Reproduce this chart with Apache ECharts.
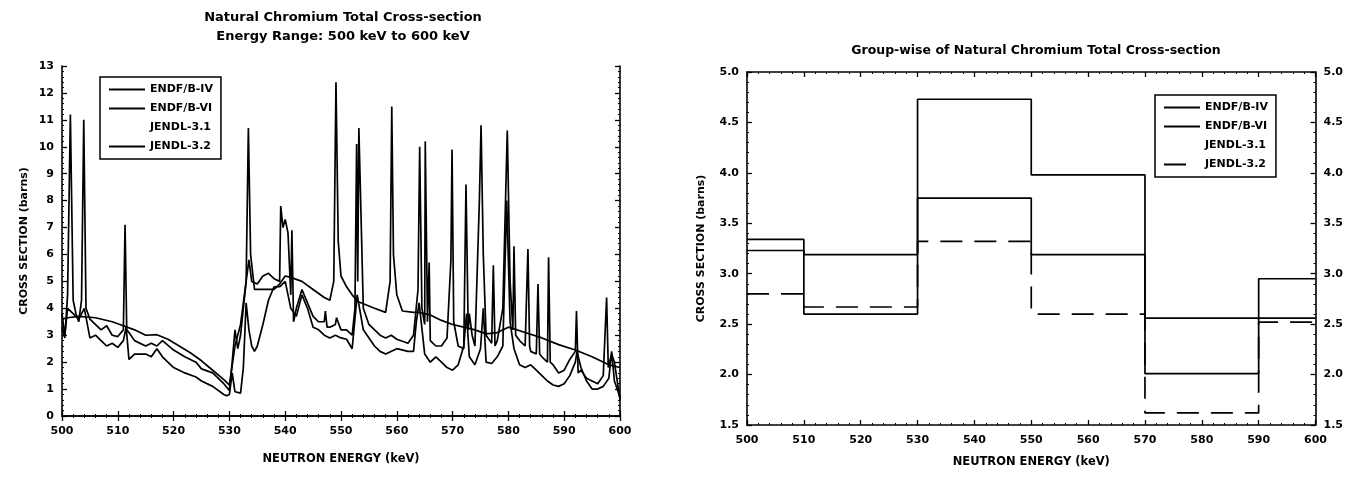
<!DOCTYPE html>
<html>
<head>
<meta charset="utf-8">
<script src="https://cdn.jsdelivr.net/npm/echarts@6/dist/echarts.min.js"></script>
<style>
  html, body { margin: 0; padding: 0; background: #fff; }
  #chart { width: 1346px; height: 479px; }
</style>
</head>
<body>
<div id="chart"></div>
<script>
// pointwise cross sections, 500-600 keV [energy keV, barns]
const endfB4 = [
  [500, 3.6], [501, 3.65], [503, 3.7], [506, 3.65], [509, 3.5], [511, 3.35], [513, 3.2],
  [515, 3.0], [517, 3.02], [519, 2.85], [521, 2.6], [523, 2.35], [525, 2.05], [527, 1.7],
  [529, 1.35], [530, 1.15], [531, 2.6], [532, 3.4], [533, 5.0], [533.4, 10.7], [533.8, 6.0],
  [534.5, 4.7], [536, 4.7], [538, 4.7], [539, 4.9], [540, 5.2], [541, 5.15], [543, 5.0],
  [545, 4.7], [547, 4.4], [548, 4.3], [548.7, 5.0], [549.1, 12.4], [549.5, 6.5], [550, 5.2],
  [551, 4.8], [552, 4.5], [553, 4.25], [556, 4.0], [558, 3.85], [558.8, 5.0], [559.1, 11.5],
  [559.4, 6.0], [560, 4.5], [561, 3.9], [563, 3.85], [564, 3.85], [566, 3.75], [568, 3.55],
  [570, 3.4], [572, 3.3], [574, 3.2], [576, 3.05], [578, 3.1], [580, 3.3], [583, 3.1],
  [586, 2.9], [589, 2.65], [592, 2.45], [595, 2.2], [598, 1.9], [600, 1.8]
];
const endfB6 = [
  [500, 3.3], [500.5, 2.9], [501, 4.5], [501.5, 11.2], [502, 4.3], [502.5, 3.8], [503, 3.5],
  [503.5, 4.3], [503.9, 11.0], [504.3, 4.0], [505, 3.6], [507, 3.2], [508, 3.35], [509, 3.0],
  [510, 2.95], [511, 3.2], [511.3, 7.1], [511.6, 3.2], [512, 3.1], [513, 2.8], [515, 2.6],
  [516, 2.7], [517, 2.6], [518, 2.8], [520, 2.45], [522, 2.2], [524, 2.0], [525, 1.75],
  [527, 1.6], [529, 1.2], [530, 0.95], [530.5, 2.0], [531, 3.2], [531.5, 2.5], [532, 3.0],
  [533, 5.0], [533.5, 5.8], [534, 5.0], [535, 4.9], [536, 5.2], [537, 5.3], [538, 5.1],
  [539, 5.0], [539.2, 7.8], [539.6, 7.0], [540, 7.3], [540.5, 6.8], [541, 4.5], [541.2, 6.9],
  [541.5, 3.5], [542, 4.0], [543, 4.7], [544, 4.2], [545, 3.7], [546, 3.5], [547, 3.5],
  [547.2, 3.9], [547.5, 3.3], [548, 3.3], [549, 3.4], [549.2, 3.65], [550, 3.2], [551, 3.2],
  [552, 3.0], [552.5, 4.0], [552.8, 10.1], [553, 5.0], [553.2, 10.7], [554, 4.0], [555, 3.4],
  [557, 3.0], [558, 2.9], [559, 3.0], [560, 2.85], [562, 2.7], [563, 3.0], [563.8, 4.7],
  [564.1, 10.0], [564.5, 4.0], [565, 3.4], [565.1, 10.2], [565.5, 3.5], [565.8, 5.7],
  [566, 2.8], [567, 2.6], [568, 2.6], [569, 2.9], [569.7, 5.8], [569.9, 9.9], [570.2, 3.5],
  [571, 2.6], [572, 2.5], [572.4, 8.6], [572.8, 3.2], [573, 3.8], [573.5, 3.0], [574, 2.6],
  [574.8, 8.0], [575.1, 10.8], [575.5, 6.0], [576, 3.0], [577, 2.7], [577.3, 5.6],
  [577.6, 2.6], [578, 2.8], [579, 4.0], [579.8, 10.6], [580.3, 5.0], [580.8, 3.2], [581, 6.3],
  [581.3, 3.0], [582, 2.8], [583, 2.6], [583.5, 6.2], [583.8, 2.6], [584, 2.4], [585, 2.3],
  [585.3, 4.9], [585.6, 2.3], [586, 2.2], [587, 2.0], [587.2, 5.9], [587.5, 2.0], [588, 1.9],
  [589, 1.6], [590, 1.7], [591, 2.1], [592, 2.4], [592.2, 3.9], [592.5, 1.6], [593, 1.7],
  [594, 1.4], [595, 1.3], [596, 1.2], [597, 1.5], [597.6, 4.4], [597.9, 1.8], [598.5, 2.3],
  [599, 2.0], [600, 0.6]
];
const jendl31 = [];
const jendl32 = [
  [500, 3.8], [500.5, 3.0], [501, 4.0], [502, 3.8], [503, 3.6], [504, 4.0], [505, 2.9],
  [506, 3.0], [507, 2.8], [508, 2.6], [509, 2.7], [510, 2.55], [511, 2.8], [511.5, 3.3],
  [512, 2.1], [513, 2.3], [515, 2.3], [516, 2.2], [517, 2.5], [518, 2.2], [520, 1.8],
  [522, 1.6], [524, 1.45], [525, 1.3], [527, 1.1], [529, 0.8], [529.5, 0.75], [530, 0.8],
  [530.5, 1.6], [531, 0.9], [532, 0.85], [532.5, 1.8], [533, 4.2], [533.5, 3.2], [534, 2.6],
  [534.5, 2.4], [535, 2.6], [536, 3.4], [537, 4.3], [538, 4.8], [539, 4.8], [540, 5.0],
  [541, 4.0], [542, 3.7], [543, 4.5], [544, 4.0], [545, 3.3], [546, 3.2], [547, 3.0],
  [548, 2.9], [549, 3.0], [550, 2.9], [551, 2.85], [552, 2.5], [552.9, 4.5], [554, 3.2],
  [556, 2.6], [557, 2.4], [558, 2.3], [560, 2.5], [562, 2.4], [563, 2.4], [563.5, 3.5],
  [564, 4.2], [565, 2.3], [566, 2.0], [567, 2.2], [568, 2.0], [569, 1.8], [570, 1.7],
  [571, 1.9], [572, 2.6], [572.5, 3.8], [573, 2.2], [574, 1.9], [575, 2.5], [575.5, 4.0],
  [576, 2.0], [577, 1.95], [578, 2.2], [579, 2.6], [579.7, 8.0], [580.3, 3.5], [581, 2.5],
  [582, 1.9], [583, 1.8], [584, 1.9], [585, 1.7], [586, 1.5], [587, 1.3], [588, 1.15],
  [589, 1.1], [590, 1.2], [591, 1.5], [592, 2.0], [592.3, 2.4], [593, 1.8], [594, 1.3],
  [595, 1.0], [596, 1.0], [597, 1.1], [598, 1.4], [598.5, 2.4], [599, 1.3], [600, 0.7]
];

// group-wise values
const groupEdges = [500, 510, 530, 550, 570, 590, 600];
const groupEndfB4 = [3.23, 3.19, 3.75, 3.19, 2.56, 2.56];
const groupEndfB6 = [3.34, 2.60, 4.73, 3.98, 2.01, 2.95];
const groupJendl31 = [];
const groupJendl32 = [2.80, 2.67, 3.32, 2.60, 1.62, 2.52];

const leftTicks = { min: 0, max: 13, interval: 1 };
const rightTicks = { min: 1.5, max: 5.0, interval: 0.5 };

function steps(vals) {
  if (!vals.length) return [];
  const pts = vals.map((v, i) => [groupEdges[i], v]);
  pts.push([groupEdges[groupEdges.length - 1], vals[vals.length - 1]]);
  return pts;
}

const font = '"DejaVu Sans", Arial, sans-serif';
const lbl = { color: '#000', fontFamily: font, fontWeight: 'bold', fontSize: 11 };
const axLine = { show: true, lineStyle: { color: '#000', width: 1.6 } };

function xAx(gi, pos, labels, name, gap) {
  return {
    type: 'value', gridIndex: gi, position: pos, min: 500, max: 600, interval: 10,
    axisLine: axLine,
    axisTick: { show: true, inside: true, length: 5, lineStyle: { color: '#000', width: 1.3 } },
    minorTick: { show: true, splitNumber: 5, length: 2, lineStyle: { color: '#000' } },
    axisLabel: { show: labels, margin: 10, ...lbl },
    splitLine: { show: false },
    name: name, nameLocation: 'middle', nameGap: gap,
    nameTextStyle: { ...lbl, fontSize: 11.5 }
  };
}
function yAx(gi, pos, t, labels, name, gap, fmt) {
  return {
    type: 'value', gridIndex: gi, position: pos, min: t.min, max: t.max, interval: t.interval,
    axisLine: axLine,
    axisTick: { show: true, inside: true, length: 5, lineStyle: { color: '#000', width: 1.3 } },
    minorTick: { show: true, splitNumber: 5, length: 2, lineStyle: { color: '#000' } },
    axisLabel: { show: labels, margin: 8, formatter: fmt, ...lbl },
    splitLine: { show: false },
    name: name, nameLocation: 'middle', nameGap: gap, nameRotate: 90,
    nameTextStyle: { ...lbl, fontSize: 11 }
  };
}

function line(name, data, xi, yi, dash) {
  return {
    name: name, type: 'line', data: data, xAxisIndex: xi, yAxisIndex: yi,
    showSymbol: false, symbol: 'none', animation: false,
    lineStyle: { color: data.length ? '#000' : 'rgba(0,0,0,0)', width: 1.7, type: dash || 'solid' },
    itemStyle: { color: data.length ? '#000' : 'rgba(0,0,0,0)' }
  };
}
function stepLine(name, vals, xi, yi, dash) {
  const s = line(name, steps(vals), xi, yi, dash);
  s.step = 'end';
  return s;
}

const names = ['ENDF/B-IV', 'ENDF/B-VI', 'JENDL-3.1', 'JENDL-3.2'];
const legendBase = {
  orient: 'vertical', itemWidth: 36, itemHeight: 12, itemGap: 8,
  borderColor: '#000', borderWidth: 1.5, padding: [7, 8, 7, 8],
  itemStyle: { opacity: 0 },
  textStyle: { ...lbl, fontSize: 11 }, selectedMode: false
};

const chart = echarts.init(document.getElementById('chart'), null, { renderer: 'canvas' });
chart.setOption({
  backgroundColor: '#fff',
  animation: false,
  title: [
    { text: 'Natural Chromium Total Cross-section\nEnergy Range: 500 keV to 600 keV',
      left: 338, top: 3, textAlign: 'center',
      textStyle: { ...lbl, fontSize: 13, lineHeight: 19 } },
    { text: 'Group-wise of Natural Chromium Total Cross-section',
      left: 1031, top: 39, textAlign: 'center',
      textStyle: { ...lbl, fontSize: 12.5 } }
  ],
  legend: [
    { ...legendBase, data: names, left: 100, top: 77 },
    { ...legendBase, left: 1155, top: 95,
      data: names.map(n => n === 'JENDL-3.2'
        ? { name: n, lineStyle: { type: [22, 40] } } : n) }
  ],
  grid: [
    { left: 62, top: 66, width: 558, height: 350 },
    { left: 747, top: 72, width: 569, height: 353 }
  ],
  xAxis: [
    xAx(0, 'bottom', true, 'NEUTRON ENERGY (keV)', 37),
    xAx(0, 'top', false, '', 0),
    xAx(1, 'bottom', true, 'NEUTRON ENERGY (keV)', 31),
    xAx(1, 'top', false, '', 0)
  ],
  yAxis: [
    yAx(0, 'left', leftTicks, true, 'CROSS SECTION (barns)', 32, v => v),
    yAx(0, 'right', leftTicks, false, '', 0, v => v),
    yAx(1, 'left', rightTicks, true, 'CROSS SECTION (barns)', 40, v => v.toFixed(1)),
    yAx(1, 'right', rightTicks, true, '', 0, v => v.toFixed(1))
  ],
  series: [
    line('ENDF/B-IV', endfB4, 0, 0),
    line('ENDF/B-VI', endfB6, 0, 0),
    line('JENDL-3.1', jendl31, 0, 0),
    line('JENDL-3.2', jendl32, 0, 0),
    stepLine('ENDF/B-IV', groupEndfB4, 2, 2),
    stepLine('ENDF/B-VI', groupEndfB6, 2, 2),
    stepLine('JENDL-3.1', groupJendl31, 2, 2),
    stepLine('JENDL-3.2', groupJendl32, 2, 2, [22, 12])
  ]
});
</script>
</body>
</html>
